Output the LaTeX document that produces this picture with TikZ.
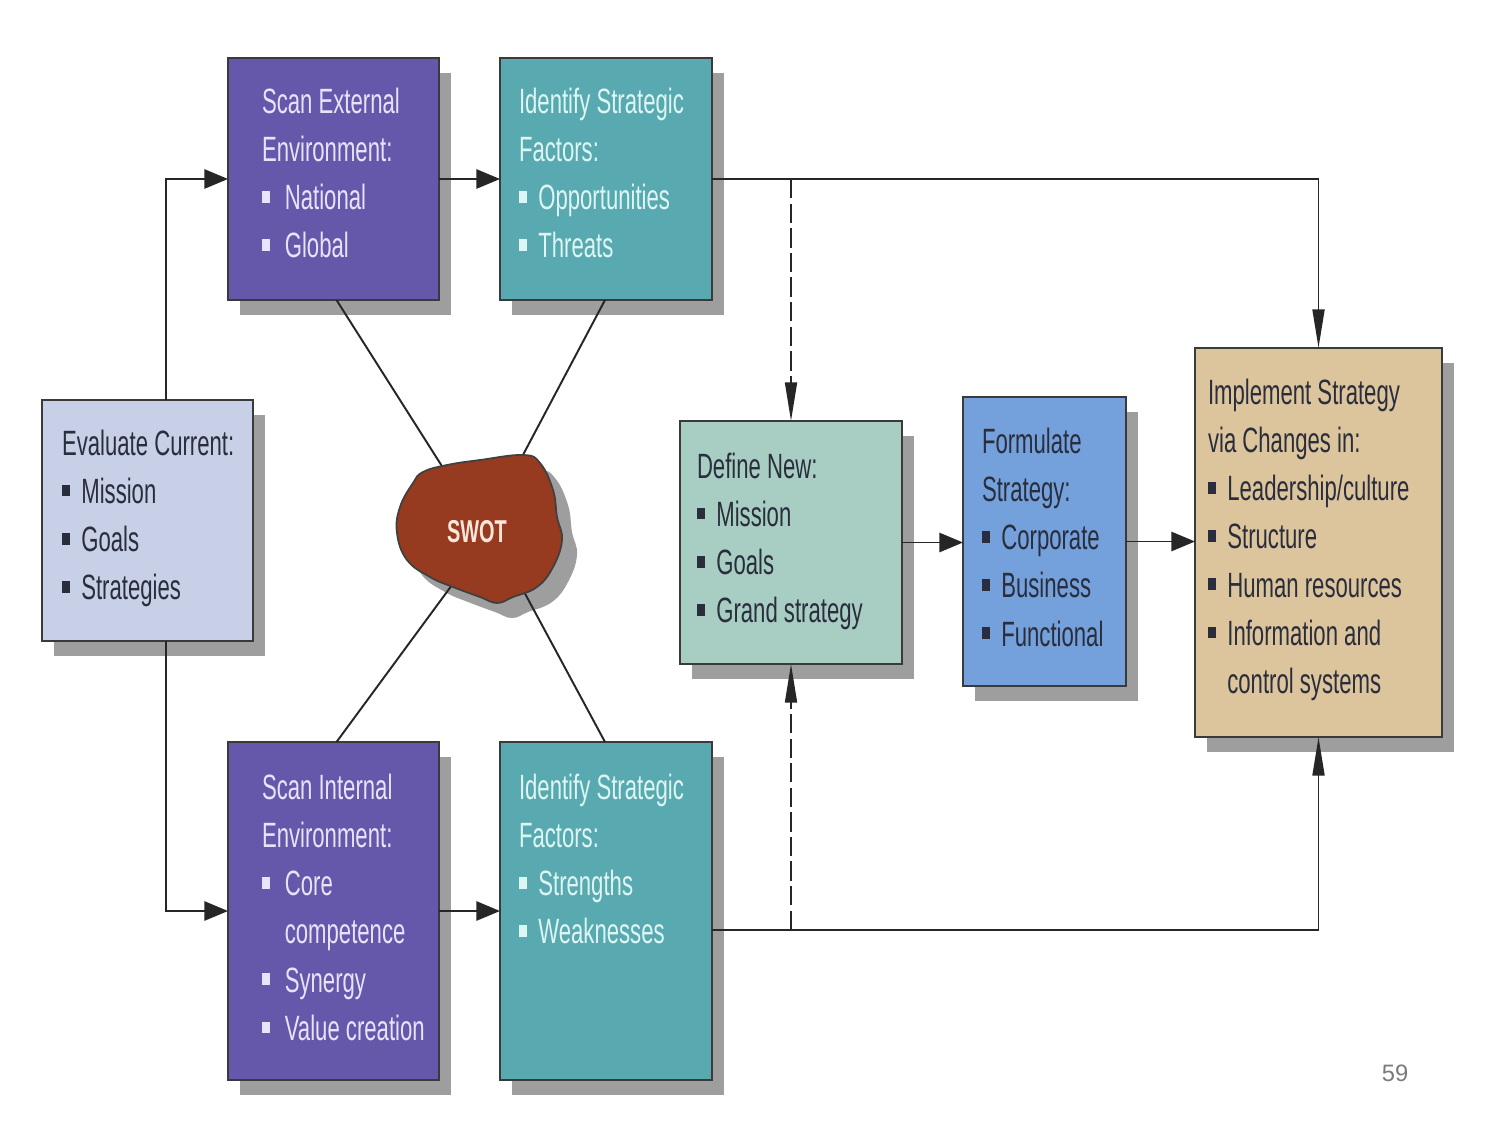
\documentclass[tikz,border=0pt]{standalone}
\usepackage{fontspec}
\setmainfont{Liberation Sans}[FakeStretch=0.63]
\newfontfamily\numfont{Liberation Sans}
\usetikzlibrary{arrows.meta,calc}
\definecolor{purplec}{HTML}{6558AA}
\definecolor{tealc}{HTML}{58AAB0}
\definecolor{evalc}{HTML}{C8D0E8}
\definecolor{defc}{HTML}{A8CEC4}
\definecolor{formc}{HTML}{74A0DC}
\definecolor{implc}{HTML}{DCC49C}
\definecolor{swotc}{HTML}{963A20}
\definecolor{swottxt}{HTML}{FBE6DC}
\definecolor{pagec}{HTML}{7A7A7A}
\definecolor{shadowc}{HTML}{9E9E9E}
\definecolor{lighttxt}{HTML}{E8E2FA}
\definecolor{tealtxt}{HTML}{DDF5F3}
\definecolor{darktxt}{HTML}{2A2E3C}
\definecolor{bordc}{HTML}{3A3A3A}
\newcommand\bl[1][11pt]{\makebox[#1][l]{\rule[4.1pt]{4.5pt}{6.5pt}}}
\newcommand\mybox[6]{%
  \fill[shadowc] (#2+12,#3+15) rectangle ++(#4,#5);
  \node[box,fill=#6,minimum width=#4*0.02cm,minimum height=#5*0.02cm] (#1) at (#2,#3) {};
}
\tikzset{
  box/.style={draw=bordc,line width=1.2pt,anchor=north west,inner sep=0pt,outer sep=0pt,rectangle},
  txt/.style={anchor=north west,inner sep=0pt,outer sep=0pt,align=left,font=\fontsize{20}{27.4}\selectfont},
  conn/.style={draw=black!85,line width=1.1pt},
  htip/.style={-{Triangle[length=13.5pt,width=11pt]}},
  vtip/.style={-{Triangle[length=22pt,width=6.8pt]}},
  dsh/.style={dash pattern=on 11pt off 3pt}
}
\begin{document}
\begin{tikzpicture}[x=0.02cm,y=-0.02cm]
\useasboundingbox[fill=white] (0,0) rectangle (1500,1125);
% boxes
\mybox{se}{228}{58}{211}{242}{purplec}
\mybox{ie}{500}{58}{212}{242}{tealc}
\mybox{ev}{42}{400}{211}{241}{evalc}
\mybox{si}{228}{742}{211}{338}{purplec}
\mybox{ii}{500}{742}{212}{338}{tealc}
\mybox{df}{680}{421}{222}{243}{defc}
\mybox{fo}{963}{397}{163}{289}{formc}
\mybox{im}{1195}{348}{247}{389}{implc}
% texts
\node[txt,text=lighttxt] (tse) at (262,88) {Scan External\\Environment:\\\bl[13pt]National\\\bl[13pt]Global};
\node[txt,text=tealtxt] (tie) at (519,88) {Identify Strategic\\Factors:\\\bl Opportunities\\\bl Threats};
\node[txt,text=darktxt] (tev) at (62,430) {Evaluate Current:\\\bl Mission\\\bl Goals\\\bl Strategies};
\node[txt,text=lighttxt] (tsi) at (262,774) {Scan Internal\\Environment:\\\bl[13pt]Core\\\hspace*{13pt}competence\\\bl[13pt]Synergy\\\bl[13pt]Value creation};
\node[txt,text=tealtxt] (tii) at (519,774) {Identify Strategic\\Factors:\\\bl Strengths\\\bl Weaknesses};
\node[txt,text=darktxt] (tdf) at (697,453) {Define New:\\\bl Mission\\\bl Goals\\\bl Grand strategy};
\node[txt,text=darktxt] (tfo) at (982,428) {Formulate\\Strategy:\\\bl Corporate\\\bl Business\\\bl Functional};
\node[txt,text=darktxt] (tim) at (1208,379) {Implement Strategy\\via Changes in:\\\bl Leadership/culture\\\bl Structure\\\bl Human resources\\\bl Information and\\\hspace*{11pt}control systems};
% connectors
\coordinate (evt) at ($(ev.north)+(18.5,0)$);
\coordinate (evb) at ($(ev.south)+(18.5,0)$);
\draw[conn,htip] (evt) |- (se.west);
\draw[conn,htip] (evb) |- (si.west);
\draw[conn,htip] (se.east) -- (ie.west);
\draw[conn,htip] (si.east) -- (ii.west);
\draw[conn,vtip] (ie.east) -| (im.north);
\coordinate (jb) at ($(ii.east)+(0,19)$);
\draw[conn,vtip] (jb) -| (im.south);
\draw[conn,dsh,vtip] (df.north |- ie.east) -- (df.north);
\draw[conn,dsh,vtip] (df.south |- jb) -- (df.south);
\draw[conn,htip] (df.east) -- (df.east -| fo.west);
\draw[conn,htip] (fo.east) -- (fo.east -| im.west);
% SWOT
\fill[shadowc] plot[smooth cycle,tension=0.7] coordinates {(438,487) (462,480) (495,475) (538,470) (555,478) (568,505) (572,532) (577,555) (568,582) (552,602) (528,612) (512,618) (495,612) (468,602) (445,592) (422,575) (412,548) (415,522) (428,498)};
\coordinate (sw1) at (452,482);
\coordinate (sw2) at (515,470);
\coordinate (sw3) at (452,585);
\coordinate (sw4) at (515,575);
\draw[conn] ($(se.south)+(3,0)$) -- (sw1);
\draw[conn] ($(ie.south)-(1,0)$) -- (sw2);
\draw[conn] ($(si.north)+(3,0)$) -- (sw3);
\draw[conn] ($(ii.north)-(1,0)$) -- (sw4);
\draw[fill=swotc,draw=black!75,line width=1pt] plot[smooth cycle,tension=0.7] coordinates {(423,472) (447,465) (480,460) (523,455) (540,463) (553,490) (557,517) (562,540) (553,567) (537,587) (513,597) (497,603) (480,597) (453,587) (430,577) (407,560) (397,533) (400,507) (413,483)};
\node[text=swottxt,inner sep=0pt,font=\fontsize{18}{20}\selectfont\bfseries] (swot) at (477,532) {SWOT};
\node[font=\numfont\fontsize{13.5}{16}\selectfont,text=pagec,inner sep=0pt] (pg) at (1395,1073) {59};
\end{tikzpicture}
\end{document}
